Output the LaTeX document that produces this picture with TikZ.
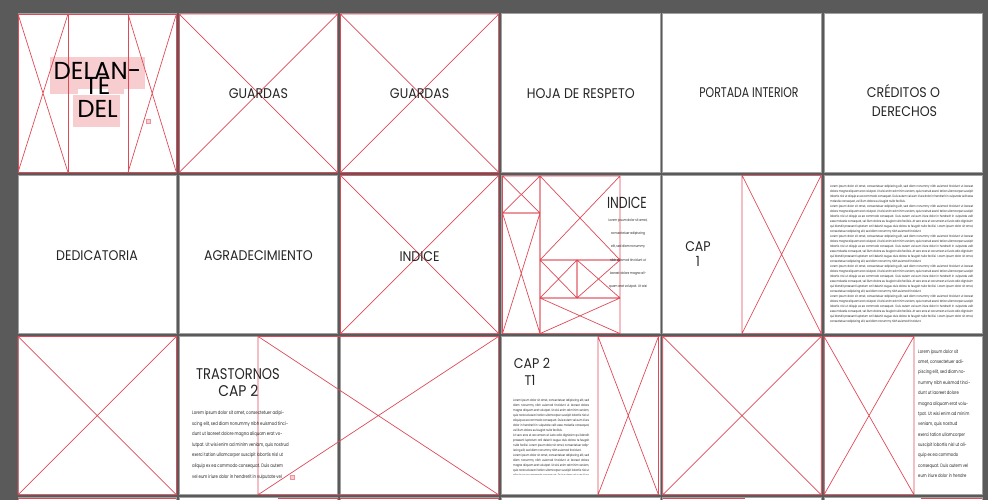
\documentclass[tikz,border=0pt]{standalone}
\usepackage{fontspec}
\newfontfamily\labf[FakeStretch=0.9]{Poppins}
\newfontfamily\labg[FakeStretch=0.84]{Poppins}
\newfontfamily\labh[FakeStretch=0.78]{Poppins}
\newfontfamily\bigf{Poppins}
\definecolor{bgc}{HTML}{5A5A5A}
\definecolor{edgec}{HTML}{A0A0A0}
\definecolor{redc}{HTML}{DE4A58}
\definecolor{pinkc}{HTML}{F7CDD0}
\definecolor{labc}{HTML}{262626}
\newcommand\lorA{Lorem ipsum dolor sit amet, consectetuer adipiscing elit, sed diam nonummy nibh euismod tincidunt ut laoreet dolore magna aliquam erat volutpat. Ut wisi enim ad minim veniam, quis nostrud exerci tation ullamcorper suscipit lobortis nisl ut aliquip ex ea commodo consequat. Duis autem vel eum iriure dolor in hendrerit in vulputate velit esse molestie consequat, vel illum dolore eu feugiat nulla facilisis.}
\newcommand\lorB{At vero eros et accumsan et iusto odio dignissim qui blandit praesent luptatum zzril delenit augue duis dolore te feugait nulla facilisi. Lorem ipsum dolor sit amet, consectetuer adipiscing elit, sed diam nonummy nibh euismod tincidunt.}
\newcommand\phx[4]{\draw[redl] (#1,#2) rectangle (#3,#4) (#1,#2) -- (#3,#4) (#3,#2) -- (#1,#4);}
\newcommand\phn[1]{\draw[redl] (#1.north west) rectangle (#1.south east) (#1.north west) -- (#1.south east) (#1.north east) -- (#1.south west);}
\tikzset{
 pagebox/.style={draw=edgec, fill=white, line width=1pt, minimum width=158.4pt, minimum height=158.4pt, anchor=north west, inner sep=0pt, outer sep=0pt},
 redl/.style={draw=redc, line width=0.7pt},
 lab/.style={font={\labf\fontsize{14}{17}\selectfont}, text=labc, inner sep=0pt, anchor=base},
 bigt/.style={font={\bigf\fontsize{24.5}{24.5}\selectfont}, text=black, inner sep=0pt, anchor=base},
 tinyt/.style={text=labc, inner sep=0pt},
 marker/.style={draw=redc!60, fill=pinkc, line width=0.4pt},
}
\begin{document}
\begin{tikzpicture}[x=1pt,y=-1pt]
\useasboundingbox (0,0) rectangle (988,500);
\clip (0,0) rectangle (988,500);
\fill[bgc] (0,0) rectangle (988,500);
% pages
\foreach \r in {0,1,2,3}{
  \foreach \c in {0,1,2,3,4,5}{
    \node[pagebox] (p\r\c) at ({18+161.2*\c},{14+161.2*\r}) {};
  }
}
% ---------- row 1 ----------
% DELANTE DEL
\fill[pinkc] (50,57) rectangle (145,89);
\fill[pinkc] (73,95) rectangle (120,127);
\fill[pinkc] (50,89) rectangle (78,94);
\fill[pinkc] (108,89) rectangle (124,94);
\draw[redl] (p00.north west) rectangle (p00.south east);
\draw[redl] (68,14) -- (68,172.4) (128,14) -- (128,172.4);
\draw[redl] (18,14) -- (68,172.4) (68,14) -- (18,172.4);
\draw[redl] (128,14) -- (176.4,172.4) (176.4,14) -- (128,172.4);
\draw[marker] (146,119) rectangle (150,123);
\node[bigt] (t00a) at (97.5,79.5) {DELAN-};
\node[bigt] (t00b) at (97.5,95) {TE};
\node[bigt] (t00c) at (97.5,117.5) {DEL};
% GUARDAS x2
\phn{p01}
\phn{p02}
\node[lab] (t01) at ([yshift=-4.9pt]p01.center) {GUARDAS};
\node[lab] (t02) at ([yshift=-4.9pt]p02.center) {GUARDAS};
\node[lab] (t03) at ([yshift=-4.9pt]p03.center) {HOJA DE RESPETO};
\node[lab, font={\labh\fontsize{14}{17}\selectfont}] (t04) at (749,98) {PORTADA INTERIOR};
\node[lab] (t05a) at (903.5,98) {CRÉDITOS O};
\node[lab] (t05b) at (904.5,117) {DERECHOS};
% ---------- row 2 ----------
\node[lab] (t10) at (97,260) {DEDICATORIA};
\node[lab] (t11) at (258.5,260) {AGRADECIMIENTO};
\phn{p12}
\node[lab] (t12) at (419.6,261) {INDICE};
% index layout page
\phx{502.5}{176}{540}{213}
\phx{502.5}{213}{540}{333.6}
\phx{540}{176}{620}{260}
\phx{540}{260}{577}{298}
\phx{577}{260}{620}{298}
\phx{540}{298}{620}{333.6}
\node[lab, font={\labh\fontsize{16}{18}\selectfont}] (t13) at (627,208.3) {INDICE};
\node[tinyt, align=center, font={\labh\fontsize{3.6}{13.3}\selectfont}, anchor=north] (t13b) at (628,218.3)
  {Lorem ipsum dolor sit amet,\\consectetuer adipiscing\\elit, sed diam nonummy\\nibh euismod tincidunt ut\\laoreet dolore magna ali-\\quam erat volutpat. Ut wisi};
% CAP 1
\phx{742}{175.2}{821.2}{333.6}
\node[lab] (t14a) at (698,251.7) {CAP};
\node[lab] (t14b) at (698,266.5) {1};
% dense text page
\begin{scope}
\clip (828,182) rectangle (976,326);
\node[tinyt, anchor=north west] (t15) at (830,184.8)
 {\parbox[t]{143pt}{\labh\fontsize{3.2}{5}\selectfont\emergencystretch=20pt\hbadness=10000
 \lorA\par\lorA\ \lorB\par\lorA\ \lorB\par\lorA\ \lorB\par\lorA\ \lorB\par}};
\end{scope}
% ---------- row 3 ----------
\phn{p20}
\phx{258}{336.4}{498.6}{494.8}
\node[lab, font={\labg\fontsize{15.5}{18}\selectfont}] (t21a) at (238,379.3) {TRASTORNOS};
\node[lab, font={\labf\fontsize{15.5}{18}\selectfont}] (t21b) at (238.3,396) {CAP 2};
\node[tinyt, align=left, font={\labh\fontsize{4.9}{10.6}\selectfont}, anchor=north west] (t21c) at (192,410.6)
 {Lorem ipsum dolor sit amet, consectetuer adipi-\\scing elit, sed diam nonummy nibh euismod tinci-\\dunt ut laoreet dolore magna aliquam erat vo-\\lutpat. Ut wisi enim ad minim veniam, quis nostrud\\exerci tation ullamcorper suscipit lobortis nisl ut\\aliquip ex ea commodo consequat. Duis autem\\vel eum iriure dolor in hendrerit in vulputate vel};
\draw[marker] (290,475) rectangle (294,479);
% CAP 2 T1
\phx{598}{336.4}{658.5}{494.8}
\node[lab] (t23a) at (532,368.3) {CAP 2};
\node[lab] (t23b) at (530,385) {T1};
\begin{scope}
\clip (511,396) rectangle (592,474);
\node[tinyt, anchor=north west] (t23c) at (513,398.5)
 {\parbox[t]{76pt}{\labh\fontsize{3.2}{5.05}\selectfont\emergencystretch=20pt\hbadness=10000
 \lorA\par\lorB\par\lorA\par}};
\end{scope}
\phn{p24}
\phx{824}{336.4}{914}{494.8}
\node[tinyt, align=left, font={\labh\fontsize{4.8}{10.35}\selectfont}, anchor=north west] (t25) at (918,349.4)
 {Lorem ipsum dolor sit\\amet, consectetuer adi-\\piscing elit, sed diam no-\\nummy nibh euismod tinci-\\dunt ut laoreet dolore\\magna aliquam erat volu-\\tpat. Ut wisi enim ad minim\\veniam, quis nostrud\\exerci tation ullamcorper\\suscipit lobortis nisl ut ali-\\quip ex ea commodo\\consequat. Duis autem vel\\eum iriure dolor in hendre};
% ---------- row 4 (cut off) ----------
\draw[redl] (18,498.3) -- (176.4,498.3);
\draw[redl] (278,498.3) -- (338.6,498.3);
\draw[redl] (340.4,498.3) -- (498.6,498.3);
\draw[redl] (663,498.3) -- (745,498.3);
\draw[redl] (921,498.3) -- (982.4,498.3);
\end{tikzpicture}
\end{document}
